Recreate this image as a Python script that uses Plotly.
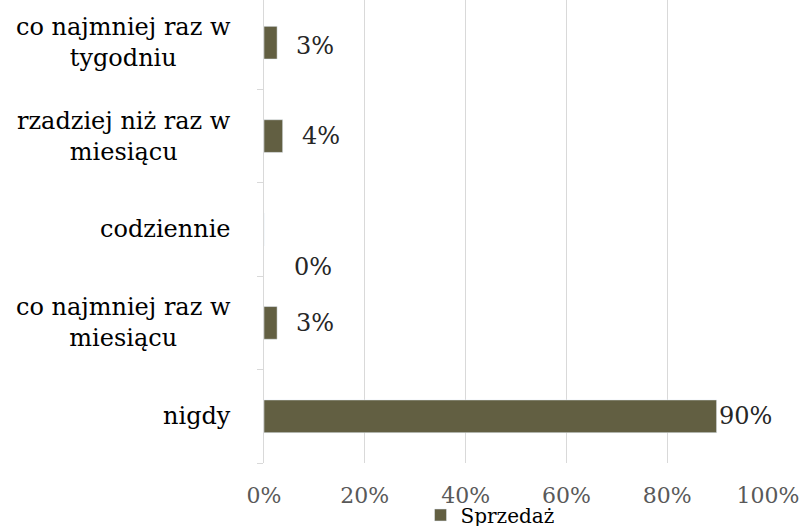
import plotly.graph_objects as go

# Data (bottom to top, as drawn)
categories = ["nigdy", "co najmniej raz w<br>miesiącu", "codziennie",
              "rzadziej niż raz w<br>miesiącu", "co najmniej raz w<br>tygodniu"]
values = [89.8, 2.6, 0.0, 3.7, 2.6]
series_name = "Sprzedaż"
x_ticks = [0, 20, 40, 60, 80, 100]

# label placement tweaks (pixel offsets), matching the original layout
label_xshift = [0, 17, 28, 17, 17]
label_yshift = [0, 0, -38, 0, -3]

FONT = "DejaVu Serif"
BAR = "#625f42"
GRID = "#d9d9d9"

fig = go.Figure()
fig.add_trace(go.Bar(
    y=categories, x=values, orientation="h", name=series_name,
    marker=dict(color=BAR), width=0.35, showlegend=True,
))

annotations = []
for cat, v, xs, ys in zip(categories, values, label_xshift, label_yshift):
    annotations.append(dict(
        x=v, y=cat, xref="x", yref="y", text=f"{round(v):.0f}%",
        showarrow=False, xanchor="left", yanchor="middle",
        xshift=xs, yshift=ys, font=dict(family=FONT, size=24, color="#262626"),
    ))
    annotations.append(dict(
        x=0, y=cat, xref="paper", yref="y", text=cat, align="center",
        showarrow=False, xanchor="right", yanchor="middle", xshift=-31,
        font=dict(family=FONT, size=24, color="#000000"),
    ))

fig.update_layout(
    width=801, height=526,
    margin=dict(l=263.5, r=33, t=0, b=62.7, autoexpand=False),
    paper_bgcolor="white", plot_bgcolor="white",
    font=dict(family=FONT, size=22, color="#595959"),
    annotations=annotations,
    showlegend=True,
    legend=dict(
        orientation="h", xref="container", yref="container",
        x=0.525, y=0.058, xanchor="left", yanchor="top",
        bgcolor="rgba(0,0,0,0)",
        font=dict(family=FONT, size=20, color="#000000"),
        itemwidth=30, tracegroupgap=0,
    ),
    xaxis=dict(
        range=[0, 100], tickvals=x_ticks, ticktext=[f"{t}%" for t in x_ticks],
        showgrid=True, gridcolor=GRID, gridwidth=1, zeroline=False,
        showline=False, ticks="", ticklabelstandoff=17, automargin=False,
        tickfont=dict(family=FONT, size=22, color="#595959"),
    ),
    yaxis=dict(
        type="category", range=[-0.5, 4.457], showticklabels=False,
        showline=True, linecolor=GRID, linewidth=1, automargin=False,
        ticks="outside", tickson="boundaries", ticklen=6, tickcolor=GRID,
        showgrid=False, zeroline=False,
    ),
    bargap=0.65,
)

fig.write_html("out.html",
               config={"displayModeBar": False},
               post_script="document.body.style.margin='0';document.body.style.overflow='hidden';")
